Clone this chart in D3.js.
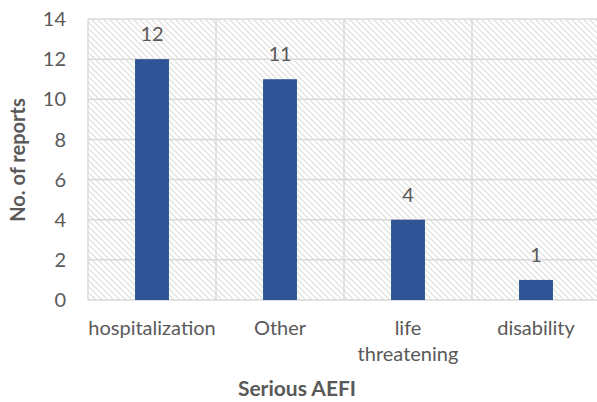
<!DOCTYPE html>
<html>
<head>
<meta charset="utf-8">
<script src="https://cdn.jsdelivr.net/npm/d3@7"></script>
<style>
  body { margin: 0; background: #fff; }
  text { font-family: Lato, "Open Sans", sans-serif; fill: #595959; }
</style>
</head>
<body>
<div id="chart"></div>
<script>
// data ----------------------------------------------------------------
var categories = ["hospitalization", "Other", "life threatening", "disability"];
var catLines = [["hospitalization"], ["Other"], ["life", "threatening"], ["disability"]];
var reports = [12, 11, 4, 1];
var yTicks = [0, 2, 4, 6, 8, 10, 12, 14];

var width = 597, height = 402;
var margin = {top: 19, right: -3, bottom: 102, left: 88};

var svg = d3.select("#chart").append("svg")
    .attr("width", width)
    .attr("height", height);

// hatch for the plot background
var defs = svg.append("defs");
var pat = defs.append("pattern")
    .attr("id", "hatch")
    .attr("patternUnits", "userSpaceOnUse")
    .attr("width", 6)
    .attr("height", 6);
pat.append("path")
    .attr("d", "M0,0L6,6M-1,5L1,7M5,-1L7,1")
    .attr("stroke", "#dcdcdc")
    .attr("stroke-width", 1.1);

var x = d3.scaleBand()
    .domain(categories)
    .range([margin.left, width - margin.right])
    .paddingInner(0.735)
    .paddingOuter(0.3675);

var cell = d3.scaleBand()
    .domain(categories)
    .range([margin.left, width - margin.right]);

var y = d3.scaleLinear()
    .domain([0, 14])
    .range([height - margin.bottom, margin.top]);

svg.append("rect")
    .attr("x", margin.left)
    .attr("y", y(14))
    .attr("width", width - margin.right - margin.left)
    .attr("height", y(0) - y(14))
    .attr("fill", "url(#hatch)");

// gridlines
svg.append("g")
  .selectAll("line")
  .data(yTicks)
  .enter().append("line")
    .attr("x1", margin.left)
    .attr("x2", width - margin.right)
    .attr("y1", function(d) { return y(d); })
    .attr("y2", function(d) { return y(d); })
    .attr("stroke", "#d9d9d9")
    .attr("stroke-width", 1.5);

var bounds = categories.map(function(c) { return cell(c); }).concat([width - margin.right]);
svg.append("g")
  .selectAll("line")
  .data(bounds)
  .enter().append("line")
    .attr("x1", function(d) { return d; })
    .attr("x2", function(d) { return d; })
    .attr("y1", y(14))
    .attr("y2", y(0))
    .attr("stroke", "#d9d9d9")
    .attr("stroke-width", 1.5);

// bars
svg.append("g")
  .selectAll("rect")
  .data(reports)
  .enter().append("rect")
    .attr("x", function(d, i) { return x(categories[i]); })
    .attr("y", function(d) { return y(d); })
    .attr("width", x.bandwidth())
    .attr("height", function(d) { return y(0) - y(d); })
    .attr("fill", "#2F5597");

// data labels
svg.append("g")
  .selectAll("text")
  .data(reports)
  .enter().append("text")
    .attr("x", function(d, i) { return x(categories[i]) + x.bandwidth() / 2; })
    .attr("y", function(d) { return y(d) - 18; })
    .attr("text-anchor", "middle")
    .style("font-size", "20px")
    .text(function(d) { return d; });

// y tick labels
svg.append("g")
  .selectAll("text")
  .data(yTicks)
  .enter().append("text")
    .attr("x", 66)
    .attr("y", function(d) { return y(d); })
    .attr("dy", "0.36em")
    .attr("text-anchor", "end")
    .style("font-size", "20px")
    .text(function(d) { return d; });

// x category labels
var xl = svg.append("g")
  .selectAll("text")
  .data(catLines)
  .enter().append("text")
    .attr("text-anchor", "middle")
    .style("font-size", "20px")
    .attr("transform", function(d, i) {
      return "translate(" + (cell(categories[i]) + cell.bandwidth() / 2) + ",335)";
    });
xl.selectAll("tspan")
  .data(function(d) { return d; })
  .enter().append("tspan")
    .attr("x", 0)
    .attr("y", function(d, i) { return i * 25.5; })
    .text(function(d) { return d; });

// axis titles
svg.append("text")
    .attr("x", 297)
    .attr("y", 396)
    .attr("text-anchor", "middle")
    .style("font-size", "21px")
    .style("font-weight", "bold")
    .text("Serious AEFI");

svg.append("text")
    .attr("transform", "translate(25,160) rotate(-90)")
    .attr("text-anchor", "middle")
    .style("font-size", "20px")
    .style("font-weight", "bold")
    .text("No. of reports");
</script>
</body>
</html>
